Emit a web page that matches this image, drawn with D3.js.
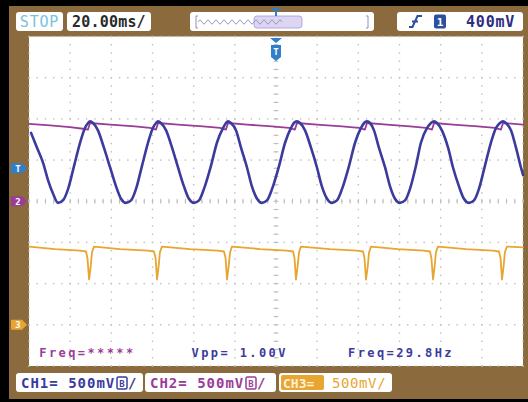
<!DOCTYPE html>
<html>
<head>
<meta charset="utf-8">
<script src="https://cdn.jsdelivr.net/npm/d3@7"></script>
<style>
html, body { margin: 0; padding: 0; background: #000; }
svg { display: block; }
text { font-family: "DejaVu Sans Mono", monospace; }
</style>
</head>
<body>
<svg id="scope" width="528" height="402"></svg>
<script>
// scope settings
var timePerDiv = 20;              // ms
var timeTicks = [-120, -100, -80, -60, -40, -20, 0, 20, 40, 60, 80, 100, 120];
var divTicks = [-4, -3, -2, -1, 0, 1, 2, 3, 4];
var channelNames = ["CH1", "CH2", "CH3"];
var voltsPerDiv = [0.5, 0.5, 0.5];
var channelOffsets = [0, 0, -3];  // ground position, divisions
var channelColors = ["#3b3b9e", "#9a3c98", "#e8a531"];
var triggerLevel = 0.4;           // V on CH1

// traces, [ms, V]
var ch1Trace = [
    [-119.0, 0.83], [-116.1, 0.65], [-113.2, 0.47], [-110.8, 0.26], [-108.3, 0.09], [-105.9, -0.02],
    [-103.5, 0.01], [-101.0, 0.15], [-98.1, 0.43], [-95.2, 0.71], [-92.8, 0.89], [-91.3, 0.95], [-90.4, 0.97], [-88.9, 0.95],
    [-86.5, 0.86], [-83.6, 0.65], [-80.6, 0.41], [-77.7, 0.18], [-75.3, 0.03], [-72.9, -0.02],
    [-70.4, 0.01], [-68.0, 0.15], [-65.1, 0.43], [-62.2, 0.71], [-59.8, 0.89], [-58.3, 0.95], [-57.3, 0.97], [-55.9, 0.95],
    [-53.4, 0.86], [-50.5, 0.65], [-47.6, 0.41], [-44.7, 0.18], [-42.3, 0.03], [-39.8, -0.02],
    [-37.4, 0.01], [-35.0, 0.15], [-31.6, 0.43], [-28.7, 0.71], [-25.7, 0.89], [-24.3, 0.95], [-23.3, 0.97], [-21.9, 0.95],
    [-19.4, 0.86], [-17.0, 0.65], [-14.1, 0.41], [-11.7, 0.18], [-9.2, 0.03], [-6.8, -0.02],
    [-4.4, 0.01], [-1.9, 0.15], [1.5, 0.43], [4.4, 0.71], [7.3, 0.89], [8.7, 0.95], [10.2, 0.97], [11.7, 0.95],
    [14.1, 0.86], [17.0, 0.65], [19.9, 0.41], [22.3, 0.18], [24.8, 0.03], [27.2, -0.02],
    [29.6, 0.01], [32.1, 0.15], [35.5, 0.43], [38.4, 0.71], [41.3, 0.89], [42.8, 0.95], [44.2, 0.97], [45.7, 0.95],
    [47.6, 0.86], [50.0, 0.65], [53.0, 0.41], [55.4, 0.18], [57.8, 0.03], [60.2, -0.02],
    [62.7, 0.01], [65.1, 0.15], [68.0, 0.43], [70.4, 0.71], [73.4, 0.89], [75.3, 0.95], [76.8, 0.97], [78.2, 0.95],
    [80.6, 0.86], [83.6, 0.65], [86.0, 0.41], [88.9, 0.18], [91.3, 0.03], [93.8, -0.02],
    [96.2, 0.01], [98.6, 0.15], [101.5, 0.43], [104.4, 0.71], [106.9, 0.89], [108.8, 0.95], [110.3, 0.97], [111.7, 0.95],
    [114.2, 0.86], [116.6, 0.65], [119.0, 0.41], [120.0, 0.32]
];

var ch2Trace = [
    [-120.0, 0.94], [-109.8, 0.92], [-100.1, 0.90], [-93.8, 0.88], [-91.3, 0.87], [-90.4, 0.95],
    [-80.6, 0.93], [-68.5, 0.91], [-61.2, 0.89], [-58.3, 0.87], [-57.3, 0.95],
    [-47.6, 0.93], [-35.5, 0.91], [-27.2, 0.89], [-24.3, 0.87], [-23.3, 0.95],
    [-14.1, 0.93], [-1.9, 0.91], [6.3, 0.89], [9.2, 0.87], [10.2, 0.95],
    [19.9, 0.93], [32.1, 0.91], [40.3, 0.89], [43.2, 0.87], [44.2, 0.95],
    [53.9, 0.93], [65.1, 0.91], [72.9, 0.89], [75.8, 0.87], [76.8, 0.95],
    [86.0, 0.93], [98.1, 0.91], [106.4, 0.89], [109.3, 0.87], [110.3, 0.95],
    [120.0, 0.93]
];

var ch3Trace = [
    [-120.0, 0.95], [-107.4, 0.92], [-95.2, 0.90], [-92.3, 0.89], [-91.6, 0.81], [-90.8, 0.55], [-90.1, 0.69], [-89.4, 0.88], [-88.4, 0.95],
    [-75.8, 0.92], [-62.2, 0.90], [-59.3, 0.89], [-58.5, 0.81], [-57.8, 0.55], [-57.1, 0.69], [-56.4, 0.88], [-55.4, 0.95],
    [-41.8, 0.92], [-28.2, 0.90], [-25.3, 0.89], [-24.5, 0.81], [-23.8, 0.55], [-23.1, 0.69], [-22.3, 0.88], [-21.4, 0.95],
    [-7.8, 0.92], [5.3, 0.90], [8.3, 0.89], [9.0, 0.81], [9.7, 0.55], [10.4, 0.69], [11.2, 0.88], [12.1, 0.95],
    [26.2, 0.92], [39.3, 0.90], [42.3, 0.89], [43.0, 0.81], [43.7, 0.55], [44.5, 0.69], [45.2, 0.88], [46.2, 0.95],
    [59.3, 0.92], [71.9, 0.90], [74.8, 0.89], [75.5, 0.81], [76.3, 0.55], [77.0, 0.69], [77.7, 0.88], [78.7, 0.95],
    [92.3, 0.92], [105.4, 0.90], [108.3, 0.89], [109.1, 0.81], [109.8, 0.55], [110.5, 0.69], [111.2, 0.88], [112.2, 0.95],
    [120.0, 0.94]
];

var statusLabel = "STOP";
var timebaseLabel = "20.00ms/";
var triggerLabel = "400mV";
var measureLabels = [
    {text: "Freq=*****", ch: 1, t: -115},
    {text: "Vpp= 1.00V", ch: 0, t: -41},
    {text: "Freq=29.8Hz", ch: 0, t: 35}
];
var scaleLabel = "500mV";

var svg = d3.select("#scope");
var screen = {left: 29, right: 523, top: 36.5, bottom: 366};
var gridColor = "#bdbdbd";
var brown = "#8b6b3d";

var x = d3.scaleLinear()
    .domain([timeTicks[0], timeTicks[timeTicks.length - 1]])
    .range([screen.left, screen.right]);
var yDiv = d3.scaleLinear()
    .domain([divTicks[0], divTicks[divTicks.length - 1]])
    .range([screen.bottom, screen.top]);

function chanY(ch, v) {
    return yDiv(v / voltsPerDiv[ch] + channelOffsets[ch]);
}

// frame
svg.append("rect").attr("width", 528).attr("height", 402).attr("fill", "#000");
svg.append("rect").attr("x", 9).attr("y", 6).attr("width", 519).attr("height", 393).attr("fill", brown);
svg.append("rect")
    .attr("x", screen.left).attr("y", screen.top)
    .attr("width", screen.right - screen.left).attr("height", screen.bottom - screen.top)
    .attr("fill", "#fff");

// dotted graticule
var minorTimes = d3.range(timeTicks[0], timeTicks[timeTicks.length - 1] + 0.01, timePerDiv / 5);
var minorDivs = d3.range(divTicks[0], divTicks[divTicks.length - 1] + 0.01, 0.2);
var gridG = svg.append("g");

timeTicks.forEach(function (t) {
    gridG.selectAll(null)
        .data(minorDivs)
        .enter()
        .append("rect")
        .attr("x", x(t) - 0.7)
        .attr("y", function (d) { return yDiv(d) - 0.7; })
        .attr("width", 1.4).attr("height", 1.4)
        .attr("fill", gridColor);
});
divTicks.forEach(function (d) {
    gridG.selectAll(null)
        .data(minorTimes)
        .enter()
        .append("rect")
        .attr("x", function (t) { return x(t) - 0.7; })
        .attr("y", yDiv(d) - 0.7)
        .attr("width", 1.4).attr("height", 1.4)
        .attr("fill", gridColor);
});
// center cross ticks
gridG.selectAll(null)
    .data(minorDivs)
    .enter()
    .append("line")
    .attr("x1", x(0) - 2.5).attr("x2", x(0) + 2.5)
    .attr("y1", function (d) { return yDiv(d); })
    .attr("y2", function (d) { return yDiv(d); })
    .attr("stroke", gridColor).attr("stroke-width", 1);
gridG.selectAll(null)
    .data(minorTimes)
    .enter()
    .append("line")
    .attr("y1", yDiv(0) - 2.5).attr("y2", yDiv(0) + 2.5)
    .attr("x1", function (t) { return x(t); })
    .attr("x2", function (t) { return x(t); })
    .attr("stroke", gridColor).attr("stroke-width", 1);

// traces
function drawTrace(data, ch, width, curve) {
    var line = d3.line()
        .x(function (d) { return x(d[0]); })
        .y(function (d) { return chanY(ch, d[1]); })
        .curve(curve);
    svg.append("path")
        .attr("d", line(data))
        .attr("fill", "none")
        .attr("stroke", channelColors[ch])
        .attr("stroke-width", width)
        .attr("stroke-linejoin", "round")
        .attr("stroke-linecap", "round");
}

drawTrace(ch3Trace, 2, 1.8, d3.curveLinear);
drawTrace(ch2Trace, 1, 1.8, d3.curveLinear);
drawTrace(ch1Trace, 0, 2.6, d3.curveMonotoneX);

// measurements inside the screen
svg.selectAll(".measure")
    .data(measureLabels)
    .enter()
    .append("text")
    .attr("class", "measure")
    .attr("x", function (d) { return x(d.t); })
    .attr("y", 357)
    .attr("font-size", 12)
    .attr("font-weight", "bold")
    .attr("letter-spacing", 2.4)
    .attr("fill", function (d) { return channelColors[d.ch]; })
    .text(function (d) { return d.text; });

// left ground / trigger markers
function drawMarker(y, fill, label) {
    svg.append("path")
        .attr("d", "M12," + (y - 5) + "h10l5,5l-5,5h-10q-1,0,-1,-1v-8q0,-1,1,-1z")
        .attr("fill", fill);
    svg.append("text")
        .attr("x", 18).attr("y", y + 3.5)
        .attr("text-anchor", "middle")
        .attr("font-size", 9).attr("font-weight", "bold")
        .attr("fill", "#fff")
        .text(label);
}
drawMarker(chanY(0, triggerLevel), "#2f7fca", "T");
drawMarker(chanY(1, 0), channelColors[1], "2");
drawMarker(chanY(2, 0), channelColors[2], "3");

// trigger position marker at top
var tx = x(0);
svg.append("path")
    .attr("d", "M" + (tx - 6) + ",38h12l-6,5z")
    .attr("fill", "#2f7fca");
svg.append("path")
    .attr("d", "M" + (tx - 5) + ",45h10v12l-5,4l-5,-4z")
    .attr("fill", "#2f7fca");
svg.append("text")
    .attr("x", tx).attr("y", 55)
    .attr("text-anchor", "middle")
    .attr("font-size", 9).attr("font-weight", "bold")
    .attr("fill", "#fff")
    .text("T");

// top bar
function box(x0, y0, w, h) {
    return svg.append("rect")
        .attr("x", x0).attr("y", y0)
        .attr("width", w).attr("height", h)
        .attr("rx", 3)
        .attr("fill", "#fff");
}

box(16, 12, 47, 19);
svg.append("text")
    .attr("x", 39.5).attr("y", 27)
    .attr("text-anchor", "middle")
    .attr("font-size", 15).attr("letter-spacing", 0.8)
    .attr("fill", "#79c3da")
    .text(statusLabel);

box(67, 12, 84, 19);
svg.append("text")
    .attr("x", 72).attr("y", 27)
    .attr("font-size", 15).attr("font-weight", "bold").attr("letter-spacing", 0.2)
    .attr("fill", "#2a2a2a")
    .text(timebaseLabel);

// memory / timeline window
box(190, 12, 184, 19);
var waveD = "M198,22";
for (var i = 0; i < 21; i++) {
    waveD += "q2," + (i % 2 ? 4 : -4) + ",4,0";
}
svg.append("rect")
    .attr("x", 254).attr("y", 16).attr("width", 48).attr("height", 12).attr("rx", 3)
    .attr("fill", "#dcd6f3").attr("stroke", "#a39ad6").attr("stroke-width", 0.8);
svg.append("path")
    .attr("d", waveD)
    .attr("fill", "none").attr("stroke", "#8c93b8").attr("stroke-width", 0.9);
svg.append("path")
    .attr("d", "M196,16v12M196,16h2M196,28h2M368,16v12M368,16h-2M368,28h-2")
    .attr("stroke", "#8c93b8").attr("stroke-width", 1);
svg.append("path")
    .attr("d", "M" + (tx - 4) + ",9h8M" + tx + ",9v7")
    .attr("stroke", "#2f7fca").attr("stroke-width", 2);

// trigger box
box(397, 12, 126, 19);
svg.append("path")
    .attr("d", "M409,27h3.5l5,-11h4.5M412,21.5h6")
    .attr("fill", "none").attr("stroke", "#2d4f9f").attr("stroke-width", 2);
svg.append("rect")
    .attr("x", 434).attr("y", 14.5).attr("width", 12).attr("height", 14).attr("rx", 2)
    .attr("fill", "#2d4f9f");
svg.append("text")
    .attr("x", 440).attr("y", 25.5)
    .attr("text-anchor", "middle")
    .attr("font-size", 11).attr("font-weight", "bold")
    .attr("fill", "#fff")
    .text("1");
svg.append("text")
    .attr("x", 466).attr("y", 27)
    .attr("font-size", 15).attr("font-weight", "bold").attr("letter-spacing", 0.8)
    .attr("fill", "#2d2d82")
    .text(triggerLabel);

// bottom channel boxes
function channelBox(ch, x0, w, active) {
    box(x0, 373, w, 19);
    var c = channelColors[ch];
    if (active) {
        svg.append("text")
            .attr("x", x0 + 5).attr("y", 387.5)
            .attr("font-size", 14).attr("font-weight", "bold").attr("letter-spacing", 1)
            .attr("fill", c)
            .text(channelNames[ch] + "= " + scaleLabel);
        var ix = x0 + 101;
        svg.append("rect")
            .attr("x", ix).attr("y", 377).attr("width", 10).attr("height", 12).attr("rx", 1.5)
            .attr("fill", "none").attr("stroke", c).attr("stroke-width", 1.5);
        svg.append("text")
            .attr("x", ix + 5).attr("y", 386.5)
            .attr("text-anchor", "middle")
            .attr("font-size", 9).attr("font-weight", "bold")
            .attr("fill", c)
            .text("B");
        svg.append("text")
            .attr("x", ix + 11).attr("y", 387.5)
            .attr("font-size", 14).attr("font-weight", "bold")
            .attr("fill", c)
            .text("/");
    } else {
        svg.append("rect")
            .attr("x", x0 + 2).attr("y", 375).attr("width", 43).attr("height", 15).attr("rx", 2)
            .attr("fill", c);
        svg.append("text")
            .attr("x", x0 + 4).attr("y", 387.5)
            .attr("font-size", 13).attr("font-weight", "bold")
            .attr("fill", "#fdf1d6")
            .text(channelNames[ch] + "=");
        svg.append("text")
            .attr("x", x0 + 53).attr("y", 387.5)
            .attr("font-size", 14).attr("letter-spacing", 0.6)
            .attr("fill", c)
            .text(scaleLabel + "/");
    }
}
channelBox(0, 16, 127, true);
channelBox(1, 145, 131, true);
channelBox(2, 279, 113, false);
</script>
</body>
</html>
